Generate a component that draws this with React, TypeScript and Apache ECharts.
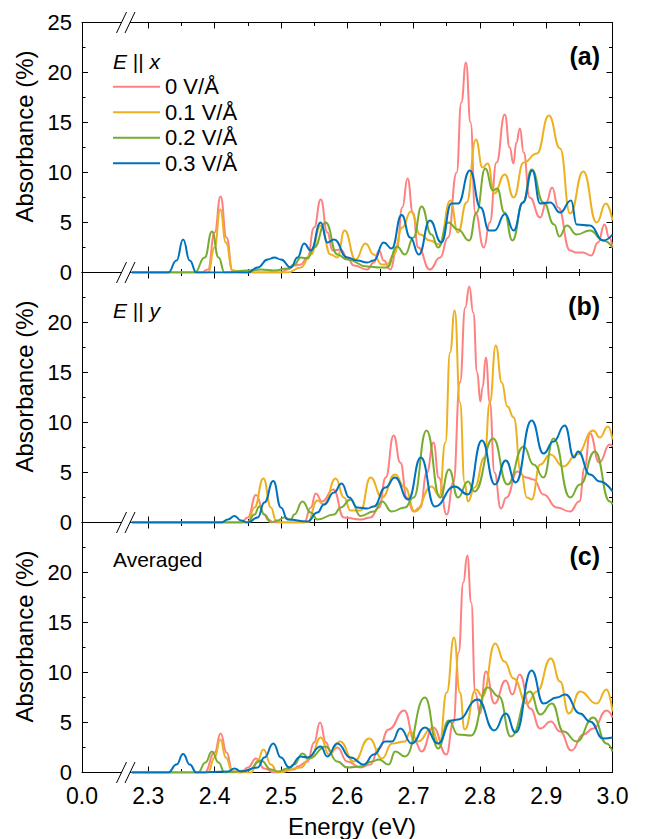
import React, { useEffect, useRef } from "react";
import * as echarts from "echarts";

// ---------- data (energy in eV, absorbance in %) ----------
const fieldNames = ["0 V/Å", "0.1 V/Å", "0.2 V/Å", "0.3 V/Å"];
const colors = ["#FF8080", "#EDB120", "#77AC30", "#0072BD"];
const panelTags = ["(a)", "(b)", "(c)"];

const xMajorTicks = [2.3, 2.4, 2.5, 2.6, 2.7, 2.8, 2.9, 3.0];
const xMinorTicks = [2.35, 2.45, 2.55, 2.65, 2.75, 2.85, 2.95];
const xLabelValues = [2.2, 2.3, 2.4, 2.5, 2.6, 2.7, 2.8, 2.9, 3.0];

// Panel (a): E || x
const a0 = [[2.275,0],[2.38,0],[2.39,0.3],[2.40,4.0],[2.409,7.6],[2.418,3.5],[2.427,0.2],[2.44,0],[2.50,0],[2.51,0.3],[2.52,0.7],[2.53,0.8],[2.54,1.5],[2.55,4.5],[2.56,7.3],[2.57,4.0],[2.578,2.2],[2.59,2.3],[2.60,1.5],[2.61,0.7],[2.63,0.3],[2.64,1.0],[2.648,2.2],[2.655,1.2],[2.665,0.3],[2.675,2.5],[2.683,6.5],[2.691,9.4],[2.699,6.0],[2.707,2.5],[2.7245,0.3],[2.74,1.5],[2.752,3.5],[2.765,10],[2.772,17],[2.779,21.0],[2.786,15],[2.793,6],[2.806,2.5],[2.815,5],[2.825,11],[2.8376,15.8],[2.845,12.5],[2.8505,10.9],[2.855,13],[2.8604,14.4],[2.866,12],[2.875,7.5],[2.891,5.5],[2.90,7.0],[2.909,8.5],[2.918,6.5],[2.936,2.2],[2.945,2.0],[2.955,2.0],[2.968,1.7],[2.978,3.0],[2.988,4.8],[2.995,3.5],[3.0,2.5]];
const a1 = [[2.275,0],[2.39,0],[2.40,2.5],[2.4085,6.3],[2.417,3.0],[2.427,0.2],[2.44,0],[2.51,0],[2.53,0.5],[2.545,1.8],[2.56,4.7],[2.575,1.8],[2.585,1.5],[2.596,4.2],[2.6125,1.3],[2.6275,2.9],[2.64,1.8],[2.652,0.8],[2.66,0.8],[2.67,1.8],[2.683,4.5],[2.696,6.1],[2.71,3.8],[2.7245,3.2],[2.739,2.8],[2.7555,7.2],[2.767,4.0],[2.78,7],[2.794,13.3],[2.804,10.5],[2.812,10.9],[2.8216,7.9],[2.8375,9.8],[2.851,7.5],[2.866,11.0],[2.886,11.9],[2.904,15.7],[2.921,12.4],[2.936,5.9],[2.956,10.1],[2.976,5.0],[2.99,6.9],[3.0,5.2]];
const a2 = [[2.275,0],[2.37,0],[2.385,1.5],[2.396,4.1],[2.406,1.5],[2.415,0],[2.45,0.2],[2.47,0.3],[2.49,0.2],[2.51,0.4],[2.52,0.8],[2.53,1.5],[2.54,1.4],[2.55,2.5],[2.5675,5.0],[2.585,1.8],[2.60,1.3],[2.63,0.6],[2.65,0.5],[2.66,0.5],[2.675,2.6],[2.687,1.8],[2.70,3.5],[2.712,6.6],[2.727,3.8],[2.737,2.5],[2.752,5.0],[2.767,4.3],[2.784,3.2],[2.795,6],[2.808,10.4],[2.82,8.2],[2.826,8.4],[2.837,6],[2.849,3.2],[2.865,7],[2.878,10.3],[2.896,7.0],[2.912,4.8],[2.92,3.6],[2.931,4.7],[2.946,3.8],[2.966,4.2],[2.986,3.2],[3.0,2.5]];
const a3 = [[2.275,0],[2.33,0],[2.3425,1.2],[2.3525,3.3],[2.3625,1.2],[2.3725,0],[2.45,0],[2.465,0.5],[2.48,1.3],[2.49,1.5],[2.50,1.3],[2.515,0.5],[2.525,1.5],[2.535,2.9],[2.545,2.2],[2.56,5.0],[2.57,3.0],[2.58,3.3],[2.60,1.5],[2.615,1.2],[2.63,1.0],[2.64,1.2],[2.655,3.0],[2.667,2.4],[2.682,5.75],[2.695,3.5],[2.708,1.8],[2.7245,5.2],[2.742,3.0],[2.757,6.9],[2.767,6.9],[2.785,10.2],[2.801,6.5],[2.814,4.2],[2.822,4.2],[2.838,5.85],[2.851,4.2],[2.865,7],[2.879,10.2],[2.891,6.9],[2.906,7.0],[2.921,6.0],[2.9375,7.2],[2.946,4.8],[2.966,4.7],[2.986,3.2],[3.0,3.8]];

// Panel (b): E || y
const b0 = [[2.275,0],[2.44,0],[2.45,0.5],[2.4625,2.75],[2.475,0.8],[2.48,0.3],[2.49,0],[2.535,0],[2.545,1.5],[2.5525,2.9],[2.562,2.1],[2.579,3.3],[2.595,0.5],[2.62,0.3],[2.635,0.5],[2.648,1.5],[2.658,4.5],[2.67,8.7],[2.68,6.0],[2.69,2.5],[2.70,1.1],[2.71,1.5],[2.72,5],[2.73,8.0],[2.738,4.5],[2.75,0.8],[2.76,4],[2.77,14],[2.778,21.5],[2.784,23.6],[2.79,21],[2.796,15],[2.8007,12.1],[2.804,13.5],[2.809,16.5],[2.815,12],[2.822,5],[2.8316,1.4],[2.84,2.5],[2.8565,5.1],[2.87,4.5],[2.881,4.3],[2.896,2.8],[2.916,1.5],[2.936,1.1],[2.95,2.1],[2.958,5.5],[2.966,8.9],[2.98,6.0],[2.996,7.8],[3.0,7.6]];
const b1 = [[2.275,0],[2.45,0],[2.46,1.5],[2.4735,4.4],[2.485,1.5],[2.4925,0.2],[2.50,0],[2.54,0],[2.555,2.2],[2.565,1.8],[2.5825,4.4],[2.595,2.5],[2.605,1.2],[2.62,1.2],[2.635,4.5],[2.6525,2.5],[2.672,4.8],[2.687,3.5],[2.702,1.1],[2.727,3.6],[2.739,2.7],[2.748,8],[2.755,17],[2.762,21.2],[2.77,12],[2.777,4],[2.782,2.1],[2.792,3.5],[2.807,6.5],[2.815,12],[2.824,17.7],[2.833,14],[2.8415,11.6],[2.851,10.5],[2.862,5],[2.871,2.5],[2.878,2.3],[2.891,5.8],[2.906,6.8],[2.926,5.6],[2.946,6.8],[2.971,9.2],[2.981,8.5],[2.993,9.6],[3.0,8.3]];
const b2 = [[2.275,0],[2.45,0],[2.46,0.8],[2.4675,1.6],[2.475,0.8],[2.485,0],[2.495,0.2],[2.505,0.5],[2.515,0.3],[2.52,0.8],[2.5325,2.1],[2.545,1.0],[2.555,0.3],[2.58,0.8],[2.59,1.5],[2.605,2.3],[2.62,0.65],[2.64,1.1],[2.6525,2.1],[2.667,1.1],[2.687,1.5],[2.70,2.5],[2.7195,9.2],[2.74,2.5],[2.7535,5.3],[2.767,2.5],[2.782,4.1],[2.792,3.1],[2.82,8.4],[2.8415,3.8],[2.866,7.6],[2.881,5.8],[2.896,4.5],[2.911,8.4],[2.936,2.5],[2.951,3.8],[2.9735,7.1],[2.996,2.1],[3.0,1.8]];
const b3 = [[2.275,0],[2.41,0],[2.42,0.3],[2.43,0.65],[2.44,0.2],[2.45,0],[2.465,0.5],[2.475,2],[2.4885,4.15],[2.50,1.5],[2.51,0.3],[2.54,0.1],[2.555,1.0],[2.565,1.8],[2.58,3.0],[2.5915,3.9],[2.603,2.5],[2.615,1.5],[2.63,1.4],[2.64,1.6],[2.6575,3.5],[2.672,4.5],[2.692,2.3],[2.711,6.5],[2.732,1.6],[2.762,3.6],[2.782,2.8],[2.803,8.2],[2.8226,3.8],[2.839,6.2],[2.854,4.0],[2.878,10.2],[2.896,6.9],[2.911,8.1],[2.928,9.7],[2.942,6.5],[2.948,7.1],[2.966,4.8],[2.981,4.1],[3.0,3.1]];

// Panel (c): averaged
const c0 = [[2.275,0],[2.385,0],[2.40,2.0],[2.409,3.9],[2.418,2.0],[2.427,0.1],[2.44,0],[2.45,0.5],[2.4625,1.4],[2.475,0.4],[2.49,0],[2.52,0.3],[2.525,0.6],[2.54,1.1],[2.55,3.0],[2.559,5.0],[2.568,3.0],[2.575,2.0],[2.585,2.5],[2.60,1.1],[2.62,0.5],[2.635,0.8],[2.6475,2.4],[2.6624,4.3],[2.686,6.2],[2.702,3.1],[2.712,2.1],[2.7296,4.5],[2.7495,1.8],[2.76,5],[2.768,12],[2.775,19],[2.781,21.7],[2.787,17],[2.793,8],[2.80,5.9],[2.809,10.1],[2.822,6.9],[2.839,9.2],[2.849,7.8],[2.86,9.8],[2.876,6.4],[2.891,4.4],[2.907,5.1],[2.921,4.1],[2.938,2.2],[2.956,3.8],[2.971,4.4],[2.991,6.2],[3.0,5.5]];
const c1 = [[2.275,0],[2.39,0],[2.40,1.5],[2.4085,3.3],[2.417,1.5],[2.427,0],[2.455,0],[2.465,1.2],[2.4735,2.3],[2.485,0.8],[2.495,0],[2.53,0.5],[2.545,1.6],[2.56,3.5],[2.5725,1.8],[2.589,3.1],[2.61,1.1],[2.633,3.4],[2.6525,1.4],[2.6675,2.9],[2.687,3.1],[2.695,4.1],[2.707,3.1],[2.727,4.4],[2.739,2.8],[2.75,8],[2.761,13.5],[2.77,8],[2.777,4.3],[2.794,8.3],[2.804,7.6],[2.823,12.9],[2.837,11.1],[2.851,9.4],[2.871,6.9],[2.886,8.1],[2.907,11.4],[2.921,9.1],[2.934,5.9],[2.951,8.1],[2.976,6.9],[2.991,8.3],[3.0,6.1]];
const c2 = [[2.275,0],[2.375,0],[2.386,1.0],[2.396,2.1],[2.406,1.0],[2.415,0],[2.45,0.2],[2.47,1.2],[2.485,0.3],[2.495,0.1],[2.51,0.4],[2.52,0.8],[2.5325,1.9],[2.5425,1.4],[2.5675,2.6],[2.585,1.1],[2.60,0.5],[2.62,0.6],[2.6375,1.1],[2.6475,1.3],[2.6625,0.8],[2.6724,2.1],[2.6873,1.6],[2.7172,7.5],[2.737,2.4],[2.753,5.2],[2.767,3.8],[2.787,3.7],[2.8117,8.5],[2.829,7.6],[2.8465,3.6],[2.8754,8.1],[2.891,5.8],[2.9087,6.9],[2.926,4.1],[2.946,3.1],[2.971,5.5],[2.991,2.9],[3.0,2.1]];
const c3 = [[2.275,0],[2.33,0],[2.3425,0.8],[2.3525,1.85],[2.3625,0.8],[2.3725,0],[2.42,0.1],[2.43,0.4],[2.44,0.1],[2.465,0.5],[2.475,1.5],[2.4885,2.9],[2.50,1.5],[2.5125,0.5],[2.53,1.6],[2.54,1.5],[2.56,2.6],[2.57,1.6],[2.585,2.9],[2.605,1.5],[2.625,0.8],[2.64,1.8],[2.6575,3.1],[2.6674,3.1],[2.68,4.4],[2.6973,2.9],[2.7172,4.5],[2.737,2.9],[2.757,5.2],[2.767,5.3],[2.7968,7.3],[2.8216,4.2],[2.839,5.9],[2.854,4.0],[2.878,10.2],[2.896,6.9],[2.916,7.5],[2.9286,7.8],[2.951,5.9],[2.966,5.1],[2.986,3.4],[3.0,3.5]];

const panels = [
  [a0, a1, a2, a3],
  [b0, b1, b2, b3],
  [c0, c1, c2, c3],
];

// ---------- layout ----------
const FONT = "'Liberation Sans', Arial, Helvetica, sans-serif";
const GRID_LEFT = 82;
const GRID_RIGHT_EDGE = 612.5;
const GRID_TOPS = [22.5, 272.5, 522.5];
const GRID_H = 250;
const TITLE_FONT = 24;
const Y_LABEL_FONT = 22;
const X_LABEL_FONT = 23;

function buildOption() {
  const grids = GRID_TOPS.map((t) => ({
    left: GRID_LEFT,
    top: t,
    width: GRID_RIGHT_EDGE - GRID_LEFT,
    height: GRID_H,
    containLabel: false,
  }));

  const xAxes: any[] = [];
  const yAxes: any[] = [];
  const series: any[] = [];

  GRID_TOPS.forEach((_, i) => {
    const base = {
      gridIndex: i,
      type: "value",
      min: 2.2,
      max: 3.0,
      splitLine: { show: false },
    };
    xAxes.push({
      ...base,
      position: "bottom",
      axisLine: { show: true, onZero: false, lineStyle: { color: "#000", width: 1 } },
      axisTick: { show: true, inside: true, length: 6, customValues: xMajorTicks, lineStyle: { color: "#000" } },
      axisLabel: {
        show: i === 2,
        customValues: xLabelValues,
        formatter: (v: number) => (v < 2.25 ? "0.0" : v.toFixed(1)),
        fontSize: X_LABEL_FONT,
        color: "#000",
        fontFamily: FONT,
        margin: 12,
      },
    });
    xAxes.push({
      ...base,
      position: "top",
      axisLine: { show: true, onZero: false, lineStyle: { color: "#000", width: 1 } },
      axisTick: { show: true, inside: true, length: 6, customValues: xMajorTicks, lineStyle: { color: "#000" } },
      axisLabel: { show: false },
    });
    xAxes.push({
      ...base,
      position: "bottom",
      axisLine: { show: false, onZero: false },
      axisTick: { show: true, inside: true, length: 3.5, customValues: xMinorTicks, lineStyle: { color: "#000" } },
      axisLabel: { show: false },
    });
    xAxes.push({
      ...base,
      position: "top",
      axisLine: { show: false, onZero: false },
      axisTick: { show: true, inside: true, length: 3.5, customValues: xMinorTicks, lineStyle: { color: "#000" } },
      axisLabel: { show: false },
    });

    const yBase = {
      gridIndex: i,
      type: "value",
      min: 0,
      max: 25,
      interval: 5,
      splitLine: { show: false },
      minorTick: { show: true, splitNumber: 2, length: 3.5, lineStyle: { color: "#000" } },
      minorSplitLine: { show: false },
    };
    yAxes.push({
      ...yBase,
      position: "left",
      axisLine: { show: true, onZero: false, lineStyle: { color: "#000", width: 1 } },
      axisTick: { show: true, inside: true, length: 6, lineStyle: { color: "#000" } },
      axisLabel: {
        show: true,
        fontSize: Y_LABEL_FONT,
        color: "#000",
        fontFamily: FONT,
        margin: 10,
        formatter: (v: number) => (i > 0 && v === 25 ? "" : String(v)),
      },
    });
    yAxes.push({
      ...yBase,
      position: "right",
      axisLine: { show: true, onZero: false, lineStyle: { color: "#000", width: 1 } },
      axisTick: { show: true, inside: true, length: 6, lineStyle: { color: "#000" } },
      axisLabel: { show: false },
    });

    panels[i].forEach((d, k) => {
      series.push({
        type: "line",
        name: fieldNames[k],
        xAxisIndex: i * 4,
        yAxisIndex: i * 2,
        data: d,
        showSymbol: false,
        symbol: "none",
        smooth: 0.5,
        smoothMonotone: "x",
        color: colors[k],
        lineStyle: { color: colors[k], width: 2 },
        z: 2 + k,
        clip: true,
      });
    });
  });

  // axis-break marks
  const breakGraphics: any[] = [];
  const ys = [22.5, 272.5, 522.5, 772.5];
  ys.forEach((y) => {
    breakGraphics.push({
      type: "rect",
      z: 100,
      shape: { x: 121.5, y: y - 2, width: 8.5, height: 4 },
      style: { fill: "#fff" },
    });
    breakGraphics.push({
      type: "line",
      z: 101,
      shape: { x1: 116.5, y1: y + 10.5, x2: 126.5, y2: y - 10.5 },
      style: { stroke: "#000", lineWidth: 1 },
    });
    breakGraphics.push({
      type: "line",
      z: 101,
      shape: { x1: 125, y1: y + 10.5, x2: 135, y2: y - 10.5 },
      style: { stroke: "#000", lineWidth: 1 },
    });
  });

  const textGraphics: any[] = [];
  GRID_TOPS.forEach((t, i) => {
    textGraphics.push({
      type: "text",
      z: 100,
      x: 24,
      y: t + 114,
      rotation: Math.PI / 2,
      style: {
        text: "Absorbance (%)",
        fontSize: TITLE_FONT,
        fontFamily: FONT,
        fill: "#000",
        align: "center",
        verticalAlign: "middle",
      },
    });
    textGraphics.push({
      type: "text",
      z: 100,
      x: 600,
      y: t + 33,
      style: {
        text: panelTags[i],
        fontSize: 25,
        fontWeight: "bold",
        fontFamily: FONT,
        fill: "#000",
        align: "right",
        verticalAlign: "middle",
      },
    });
  });
  const italic = { fontStyle: "italic", fontSize: 21, fontFamily: FONT, fill: "#000" };
  textGraphics.push({
    type: "text",
    z: 100,
    x: 113,
    y: 61,
    style: {
      text: "{i|E} || {i|x}",
      rich: { i: italic },
      fontSize: 21,
      fontFamily: FONT,
      fill: "#000",
      align: "left",
      verticalAlign: "middle",
    },
  });
  textGraphics.push({
    type: "text",
    z: 100,
    x: 113,
    y: 310,
    style: {
      text: "{i|E} || {i|y}",
      rich: { i: italic },
      fontSize: 21,
      fontFamily: FONT,
      fill: "#000",
      align: "left",
      verticalAlign: "middle",
    },
  });
  textGraphics.push({
    type: "text",
    z: 100,
    x: 113,
    y: 559,
    style: {
      text: "Averaged",
      fontSize: 21,
      fontFamily: FONT,
      fill: "#000",
      align: "left",
      verticalAlign: "middle",
    },
  });
  textGraphics.push({
    type: "text",
    z: 100,
    x: 352,
    y: 826,
    style: {
      text: "Energy (eV)",
      fontSize: TITLE_FONT,
      fontFamily: FONT,
      fill: "#000",
      align: "center",
      verticalAlign: "middle",
    },
  });

  return {
    animation: false,
    backgroundColor: "#fff",
    textStyle: { fontFamily: FONT },
    grid: grids,
    xAxis: xAxes,
    yAxis: yAxes,
    legend: {
      show: true,
      orient: "vertical",
      left: 113,
      top: 75.7,
      padding: 0,
      itemGap: 3.5,
      itemWidth: 47,
      itemHeight: 2,
      icon: "rect",
      selectedMode: false,
      data: fieldNames,
      textStyle: { fontSize: 22, fontFamily: FONT, color: "#000", lineHeight: 22 },
    },
    series,
    graphic: [...breakGraphics, ...textGraphics],
  };
}

export default function App() {
  const ref = useRef<HTMLDivElement>(null);
  useEffect(() => {
    if (!ref.current) return;
    const chart = echarts.init(ref.current, undefined, { renderer: "svg" });
    chart.setOption(buildOption() as any);
    return () => chart.dispose();
  }, []);
  return (
    <div
      ref={ref}
      style={{ position: "fixed", left: 0, top: 0, width: 645, height: 839, background: "#fff" }}
    />
  );
}
